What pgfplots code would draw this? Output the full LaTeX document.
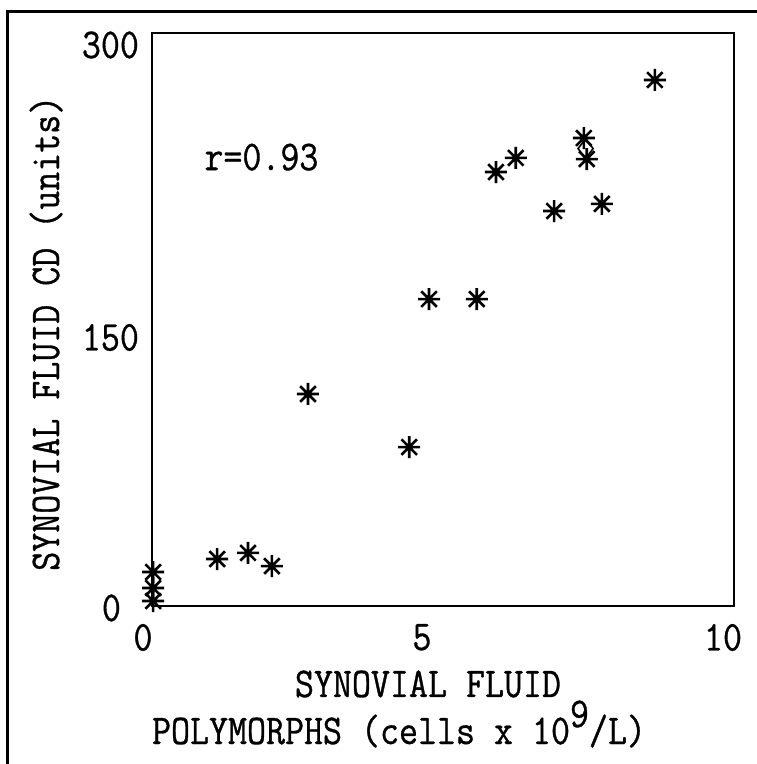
\documentclass[border=0pt]{standalone}
\usepackage{fontspec}
\setmonofont{Latin Modern Mono}[FakeStretch=0.87, FakeBold=0.8]
\usepackage{pgfplots}
\pgfplotsset{compat=1.18}

% 8-armed asterisk as in the plotter output
\pgfdeclareplotmark{star8}{%
  \pgfpathmoveto{\pgfqpoint{-\pgfplotmarksize}{0pt}}%
  \pgfpathlineto{\pgfqpoint{\pgfplotmarksize}{0pt}}%
  \pgfpathmoveto{\pgfqpoint{0pt}{-\pgfplotmarksize}}%
  \pgfpathlineto{\pgfqpoint{0pt}{\pgfplotmarksize}}%
  \pgfpathmoveto{\pgfqpointpolar{45}{\pgfplotmarksize}}%
  \pgfpathlineto{\pgfqpointpolar{225}{\pgfplotmarksize}}%
  \pgfpathmoveto{\pgfqpointpolar{135}{\pgfplotmarksize}}%
  \pgfpathlineto{\pgfqpointpolar{315}{\pgfplotmarksize}}%
  \pgfusepathqstroke}

\newcommand{\plotfont}{\ttfamily\fontsize{21.2}{27}\selectfont}

\begin{document}
\begin{tikzpicture}
  % page = 756 x 764 px at 0.5pt per px, axis box lower-left at origin
  \useasboundingbox (-76pt,-79pt) rectangle (302pt,303pt);
  \fill[white] (-76pt,-79pt) rectangle (302pt,303pt);
  \draw[line width=1.5pt] (-72pt,-80pt) -- (-72pt,297pt) -- (303pt,297pt);

  \begin{axis}[
    at={(0pt,0pt)}, anchor=south west,
    scale only axis,
    width=291pt, height=286.5pt,
    xmin=0, xmax=10, ymin=0, ymax=300,
    axis line style={line width=1pt},
    major tick length=0pt,
    xtick={0,5,10},
    xticklabels={0\hspace*{9pt},5\hspace*{21pt},10\hspace*{11pt}},
    ytick={0,150,300},
    yticklabels={{\raisebox{-1pt}[\height][\depth]{0}\hspace*{9pt}},
                 {\raisebox{-9pt}[\height][\depth]{150}},
                 {\raisebox{-6pt}[\height][\depth]{300}}},
    ticklabel style={font=\plotfont},
    xticklabel style={yshift=-5.5pt},
    yticklabel style={xshift=-3pt},
    ylabel={SYNOVIAL FLUID CD (units)},
    ylabel style={font=\plotfont, at={(axis description cs:-0.182,0.476)}, anchor=center},
    xlabel={SYNOVIAL FLUID},
    xlabel style={font=\plotfont, inner sep=0pt,
                  at={(axis description cs:0.4742,-0.1588)}, anchor=base},
    clip=false,
  ]
    \addplot[only marks, mark=star8, mark size=5.5pt, line width=1.3pt, black] coordinates {
      (8.64,275.4) (7.42,245.0) (7.47,234.0) (6.25,234.6) (5.91,227.2)
      (6.91,206.8) (7.73,210.5) (4.76,160.7) (5.58,160.7) (2.68,111.0)
      (4.42,83.2) (1.12,24.6) (1.65,27.8) (2.06,20.9)
      (0.02,17.8) (0.02,9.4) (0.02,2.6)
    };
    \addplot[only marks, mark=diamond, mark size=5pt, line width=0.8pt, black] coordinates {
      (7.45,239.5)
    };
    \node[font=\plotfont, anchor=center] at (axis cs:1.88,235) {r=0.93};
  \end{axis}
  % second line of the x label
  \node[font=\plotfont, inner sep=0pt, anchor=base] at (123.5pt,-69pt)
    {POLYMORPHS (cells x 10\raisebox{8.5pt}{9}/L)};
\end{tikzpicture}
\end{document}
